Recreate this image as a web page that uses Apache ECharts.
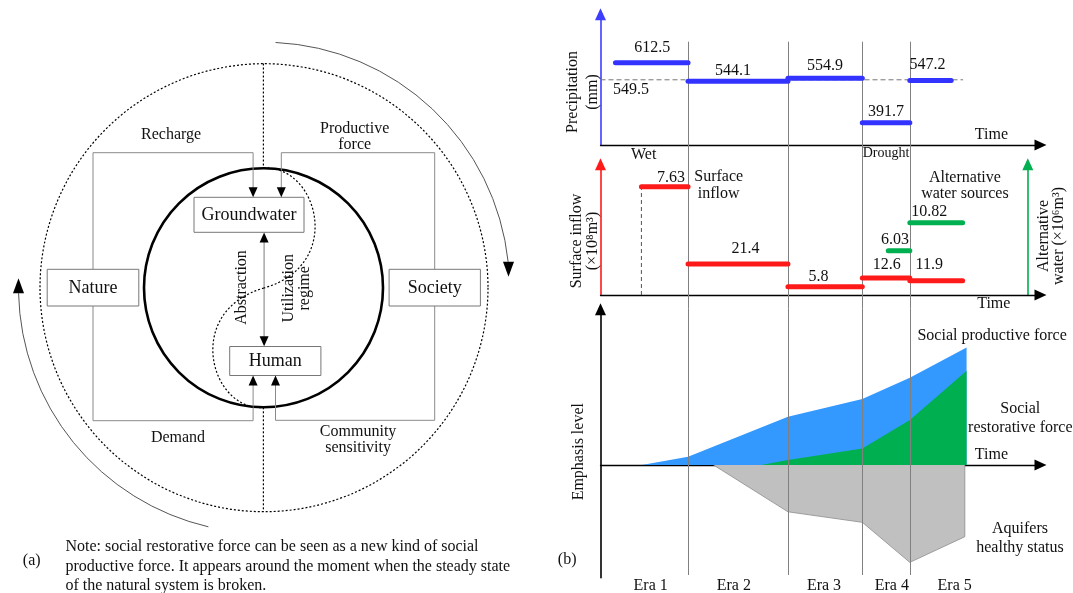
<!DOCTYPE html>
<html><head><meta charset="utf-8">
<script src="https://cdn.jsdelivr.net/npm/echarts@6/dist/echarts.min.js"></script>
<style>html,body{margin:0;padding:0;background:#fff}#c{width:1073px;height:593px}</style>
</head><body><div id="c"></div>
<script>
// ---------------- data ----------------
const eraNames = ['Era 1', 'Era 2', 'Era 3', 'Era 4', 'Era 5'];
const eraLabelAt = [11.4, 30.3, 50.8, 66.2, 80.5];
const eraBounds = [19.9, 42.6, 59.5, 70.3];

const precipStart = [3.4, 19.9, 42.6, 59.5, 70.3];
const precipEnd = [19.9, 42.6, 59.5, 70.3, 79.7];
const precipValues = [612.5, 544.1, 554.9, 391.7, 547.2];
const precipMean = 549.5;
const precipMeanEnd = 82.4;
const precipMeanLabelAt = 6.95;

const inflowStart = [9.3, 19.9, 42.6, 59.5, 70.3];
const inflowEnd = [19.9, 42.6, 59.5, 70.3, 82.3];
const inflowValues = [7.63, 21.4, 5.8, 12.6, 11.9];
const inflowLevel = [8.29, 2.37, 0.64, 1.30, 1.09];   // schematic height as drawn

const altStart = [65.4, 70.3];
const altEnd = [70.3, 82.3];
const altValues = [6.03, 10.82];
const altLevel = [3.39, 5.53];                         // schematic height as drawn

const prodTime = [9.4, 19.9, 42.6, 59.5, 70.3, 83.2, 83.2];
const prodLevel = [0, 0.69, 4.03, 5.51, 7.29, 9.82, 0];
const restTime = [36.5, 42.6, 59.5, 70.3, 83.2, 83.2];
const restLevel = [0, 0.42, 1.39, 3.76, 7.87, 0];
const aquiferTime = [25.7, 42.6, 59.5, 70.3, 82.8, 82.8];
const aquiferLevel = [0, -3.9, -4.78, -8.12, -5.98, 0];

// ---------------- styles ----------------
const SERIF = '"Liberation Serif", "Times New Roman", serif';
const precipLabelOff = [[0.5, -15], [-5, -10], [0, -12.3], [0, -10.7], [-3, -15.6]];
const inflowLabelOff = [[6.3, -8.4], [7.6, -15], [-6.5, -10], [0.7, -13], [-7, -15.7]];
const altLabelOff = [[-4, -10.7], [-7, -11]];

function zip(a, b) { return a.map((v, i) => [v, b[i]]); }
function txtStyle(text, x, y, size) {
  return { text: text, x: x, y: y, fill: '#111', font: (size || 16) + 'px ' + SERIF,
    align: 'center', verticalAlign: 'middle', textAlign: 'center', textVerticalAlign: 'middle' };
}

function segSeries(xi, yi, starts, ends, levels, texts, color, offs) {
  return {
    type: 'custom', xAxisIndex: xi, yAxisIndex: yi, z: 5, silent: true,
    data: starts.map((s, i) => [s, ends[i], levels[i]]),
    renderItem: function (params, api) {
      const i = params.dataIndex;
      const a = api.coord([api.value(0), api.value(2)]);
      const b = api.coord([api.value(1), api.value(2)]);
      return {
        type: 'group', children: [
          { type: 'line', shape: { x1: a[0], y1: a[1], x2: b[0], y2: b[1] },
            style: { stroke: color, lineWidth: 5, lineCap: 'round' } },
          { type: 'text', style: txtStyle(String(texts[i]), (a[0] + b[0]) / 2 + offs[i][0], a[1] + offs[i][1]) }
        ]
      };
    }
  };
}
function textSeries(xi, yi, xs, ys, texts, dy) {
  return {
    type: 'custom', xAxisIndex: xi, yAxisIndex: yi, z: 6, silent: true, clip: false,
    data: xs.map((x, i) => [x, ys[i]]),
    renderItem: function (params, api) {
      const p = api.coord([api.value(0), api.value(1)]);
      return { type: 'text', style: txtStyle(String(texts[params.dataIndex]), p[0], p[1] + dy) };
    }
  };
}

function T(text, x, y, size, o) {
  o = o || {};
  return { type: 'text', x: x, y: y, rotation: o.rot || 0, z: 100, silent: true,
    style: { text: text, x: 0, y: 0, font: size + 'px ' + SERIF, fill: o.fill || '#111',
      align: o.align || 'center', verticalAlign: 'middle',
      textAlign: o.align || 'center', textVerticalAlign: 'middle',
      lineHeight: o.lh || Math.round(size * 1.2) } };
}
function head(x, y, dir, w, l) {
  w = w || 9; l = l || 10; const h = w / 2;
  const pts = dir === 'down' ? [[x, y], [x - h, y - l], [x + h, y - l]] : [[x, y], [x - h, y + l], [x + h, y + l]];
  return { type: 'polygon', shape: { points: pts }, style: { fill: '#000' }, silent: true, z: 60 };
}
function PL(points, color, w, dash) {
  return { type: 'polyline', shape: { points: points }, silent: true, z: 40,
    style: { stroke: color || '#8a8a8a', lineWidth: w || 1, fill: 'none', lineDash: dash || null } };
}
function box(x, y, w, h) {
  return { type: 'rect', shape: { x: x, y: y, width: w, height: h }, silent: true, z: 50,
    style: { fill: '#fff', stroke: '#777', lineWidth: 1 } };
}
const DOT = { stroke: '#000', lineWidth: 1.2, lineDash: [2, 2], fill: 'none' };
const CX = 264, CY = 287.7, PI = Math.PI;

const graphics = [
  // ---- diagram (a) ----
  { type: 'circle', shape: { cx: CX, cy: CY, r: 224 }, style: DOT, silent: true, z: 30 },
  { type: 'circle', shape: { cx: 263.5, cy: 287.8, r: 119.5 }, style: { fill: 'none', stroke: '#000', lineWidth: 2.6 }, silent: true, z: 31 },
  { type: 'arc', shape: { cx: CX, cy: CY, r: 245.5, startAngle: -1.5237, endAngle: -0.1058, clockwise: true },
    style: { stroke: '#555', lineWidth: 1, fill: 'none' }, silent: true, z: 30 },
  head(508.5, 276.7, 'down', 11, 15),
  { type: 'arc', shape: { cx: CX, cy: CY, r: 245.5, startAngle: 1.7994, endAngle: 3.119, clockwise: true },
    style: { stroke: '#555', lineWidth: 1, fill: 'none' }, silent: true, z: 30 },
  head(18.5, 278.3, 'up', 11, 15),
  { type: 'line', shape: { x1: 263.4, y1: 63.5, x2: 263.4, y2: 168.3 }, style: DOT, silent: true, z: 32 },
  { type: 'line', shape: { x1: 263.4, y1: 407.3, x2: 263.4, y2: 511.7 }, style: DOT, silent: true, z: 32 },
  { type: 'bezierCurve', shape: { x1: 263.5, y1: 168, cpx1: 318, cpy1: 165, cpx2: 345, cpy2: 265, x2: 264, y2: 288 }, style: DOT, silent: true, z: 55 },
  { type: 'bezierCurve', shape: { x1: 264, y1: 288, cpx1: 183, cpy1: 311, cpx2: 210, cpy2: 411, x2: 263.5, y2: 407.5 }, style: DOT, silent: true, z: 55 },
  PL([[93, 269.3], [93, 152.7], [253.1, 152.7], [253.1, 188]]), head(253.1, 197.3, 'down'),
  PL([[434.7, 269.3], [434.7, 152.7], [281.3, 152.7], [281.3, 188]]), head(281.3, 197.3, 'down'),
  PL([[93, 306], [93, 420.7], [253.1, 420.7], [253.1, 385]]), head(253.1, 375.5, 'up'),
  PL([[434.7, 306], [434.7, 420.3], [275.5, 420.3], [275.5, 385]]), head(275.5, 375.5, 'up'),
  PL([[264.1, 242], [264.1, 337]], '#999', 1.3), head(264.1, 232.5, 'up'), head(264.1, 346.3, 'down'),
  box(194, 197.3, 110, 35), box(229.7, 346.5, 91.2, 29), box(47.2, 269.3, 91.6, 36.7), box(389.1, 269.3, 91.3, 36.7),
  T('Recharge', 171.1, 135, 16),
  T('Productive\nforce', 354.7, 136.3, 16, { lh: 16 }),
  T('Groundwater', 249, 214.8, 18),
  T('Nature', 93, 288, 18),
  T('Society', 434.7, 288, 18),
  T('Human', 275.3, 361, 18),
  T('Demand', 178, 437.3, 16),
  T('Community\nsensitivity', 358.1, 439.5, 16, { lh: 15.6 }),
  T('Abstraction', 241.7, 287.5, 16, { rot: PI / 2 }),
  T('Utilization\nregime', 296.7, 288.3, 16, { rot: PI / 2, lh: 16.7 }),
  T('(a)', 31.7, 560.7, 16),
  T('Note: social restorative force can be seen as a new kind of social\nproductive force. It appears around the moment when the steady state\nof the natural system is broken.', 65.4, 566.3, 16, { align: 'left', lh: 19.7 }),
  // ---- panel (b) texts ----
  T('Precipitation\n(mm)', 582.5, 92, 16, { rot: PI / 2, lh: 20.4 }),
  T('Surface inflow\n(×10⁸m³)', 584.7, 241, 16, { rot: PI / 2, lh: 15.4 }),
  T('Alternative\nwater (×10⁶m³)', 1051.5, 236, 16, { rot: PI / 2, lh: 15.5 }),
  T('Emphasis level', 579, 451.7, 16, { rot: PI / 2 }),
  T('Wet', 643.7, 155, 16),
  T('Drought', 886, 153.3, 14),
  T('Time', 991.4, 134.3, 16),
  T('Time', 993.8, 304, 16),
  T('Time', 991.4, 454.3, 16),
  T('Surface\ninflow', 718.7, 185, 16, { lh: 16.6 }),
  T('Alternative\nwater sources', 964.9, 185.3, 16, { lh: 16 }),
  T('Social productive force', 992.1, 336, 16),
  T('Social\nrestorative force', 1020.3, 418, 16, { lh: 19.4 }),
  T('Aquifers\nhealthy status', 1020, 537.8, 16, { lh: 19 }),
  T('(b)', 567.2, 559.3, 16)
];

const hid = { axisTick: { show: false }, axisLabel: { show: false }, splitLine: { show: false } };
function xAx(g, show) {
  return Object.assign({ type: 'value', gridIndex: g, min: 0, max: 100,
    axisLine: { show: show, onZero: true, lineStyle: { color: '#000', width: 1.3 }, symbol: ['none', 'triangle'], symbolSize: [11, 12] } }, hid);
}
function yAx(g, min, max, color, extra) {
  return Object.assign({ type: 'value', gridIndex: g, min: min, max: max,
    axisLine: { show: !!color, onZero: true, lineStyle: { color: color || '#000', width: 1.6 }, symbol: ['none', 'triangle'], symbolSize: [11, 12] } }, hid, extra || {});
}
const gridBase = { left: 600.5, right: 32.5, containLabel: false, outerBoundsMode: 'none' };

const option = {
  animation: false,
  backgroundColor: '#fff',
  grid: [
    Object.assign({ top: 14.3, bottom: 448 }, gridBase),
    Object.assign({ top: 164.3, bottom: 298 }, gridBase),
    Object.assign({ top: 309.3, bottom: 15.3 }, gridBase),
    Object.assign({ top: 41.7, bottom: 18 }, gridBase)
  ],
  xAxis: [xAx(0, true), xAx(1, true), xAx(2, true), xAx(3, false)],
  yAxis: [
    yAx(0, 310, 790, '#3d3dff'),
    yAx(1, 0, 10, '#ff1a1a'),
    yAx(1, 0, 10, '#00b050', { position: 'right', offset: -12.7 }),
    yAx(2, -9.4, 13, '#000'),
    yAx(3, 0, 1, null)
  ],
  graphic: { elements: graphics },
  series: [
    // precipitation
    segSeries(0, 0, precipStart, precipEnd, precipValues, precipValues, '#3333ff', precipLabelOff),
    { type: 'line', xAxisIndex: 0, yAxisIndex: 0, symbol: 'none', silent: true, z: 3,
      data: [[0, precipMean], [precipMeanEnd, precipMean]],
      lineStyle: { color: '#777', width: 1, type: [5, 3] } },
    textSeries(0, 0, [precipMeanLabelAt], [precipMean], [precipMean], 10),
    // inflow
    segSeries(1, 1, inflowStart, inflowEnd, inflowLevel, inflowValues, '#ff1a1a', inflowLabelOff),
    segSeries(1, 1, altStart, altEnd, altLevel, altValues, '#00b050', altLabelOff),
    { type: 'line', xAxisIndex: 1, yAxisIndex: 1, symbol: 'none', silent: true, z: 3,
      data: [[inflowStart[0], 0], [inflowStart[0], inflowLevel[0]]],
      lineStyle: { color: '#555', width: 1, type: [4, 3] } },
    // emphasis areas
    { type: 'line', xAxisIndex: 2, yAxisIndex: 3, symbol: 'none', silent: true, z: 2,
      data: zip(prodTime, prodLevel), lineStyle: { opacity: 0 }, areaStyle: { color: '#3399ff', opacity: 1 } },
    { type: 'line', xAxisIndex: 2, yAxisIndex: 3, symbol: 'none', silent: true, z: 3,
      data: zip(restTime, restLevel), lineStyle: { opacity: 0 }, areaStyle: { color: '#00b050', opacity: 1 } },
    { type: 'line', xAxisIndex: 2, yAxisIndex: 3, symbol: 'none', silent: true, z: 3,
      data: zip(aquiferTime, aquiferLevel), lineStyle: { color: '#8c8c8c', width: 0.8 }, areaStyle: { color: '#c0c0c0', opacity: 1 } },
    textSeries(2, 3, eraLabelAt, eraLabelAt.map(() => -9.4), eraNames, 8),
    // era boundaries
    { type: 'line', xAxisIndex: 3, yAxisIndex: 4, data: [], z: 10, silent: true,
      markLine: { silent: true, symbol: ['none', 'none'], label: { show: false },
        lineStyle: { color: '#808080', width: 1, type: 'solid' },
        data: eraBounds.map(v => ({ xAxis: v })) } }
  ]
};
const chart = echarts.init(document.getElementById('c'), null, { renderer: 'canvas' });
chart.setOption(option);
</script>
</body></html>
